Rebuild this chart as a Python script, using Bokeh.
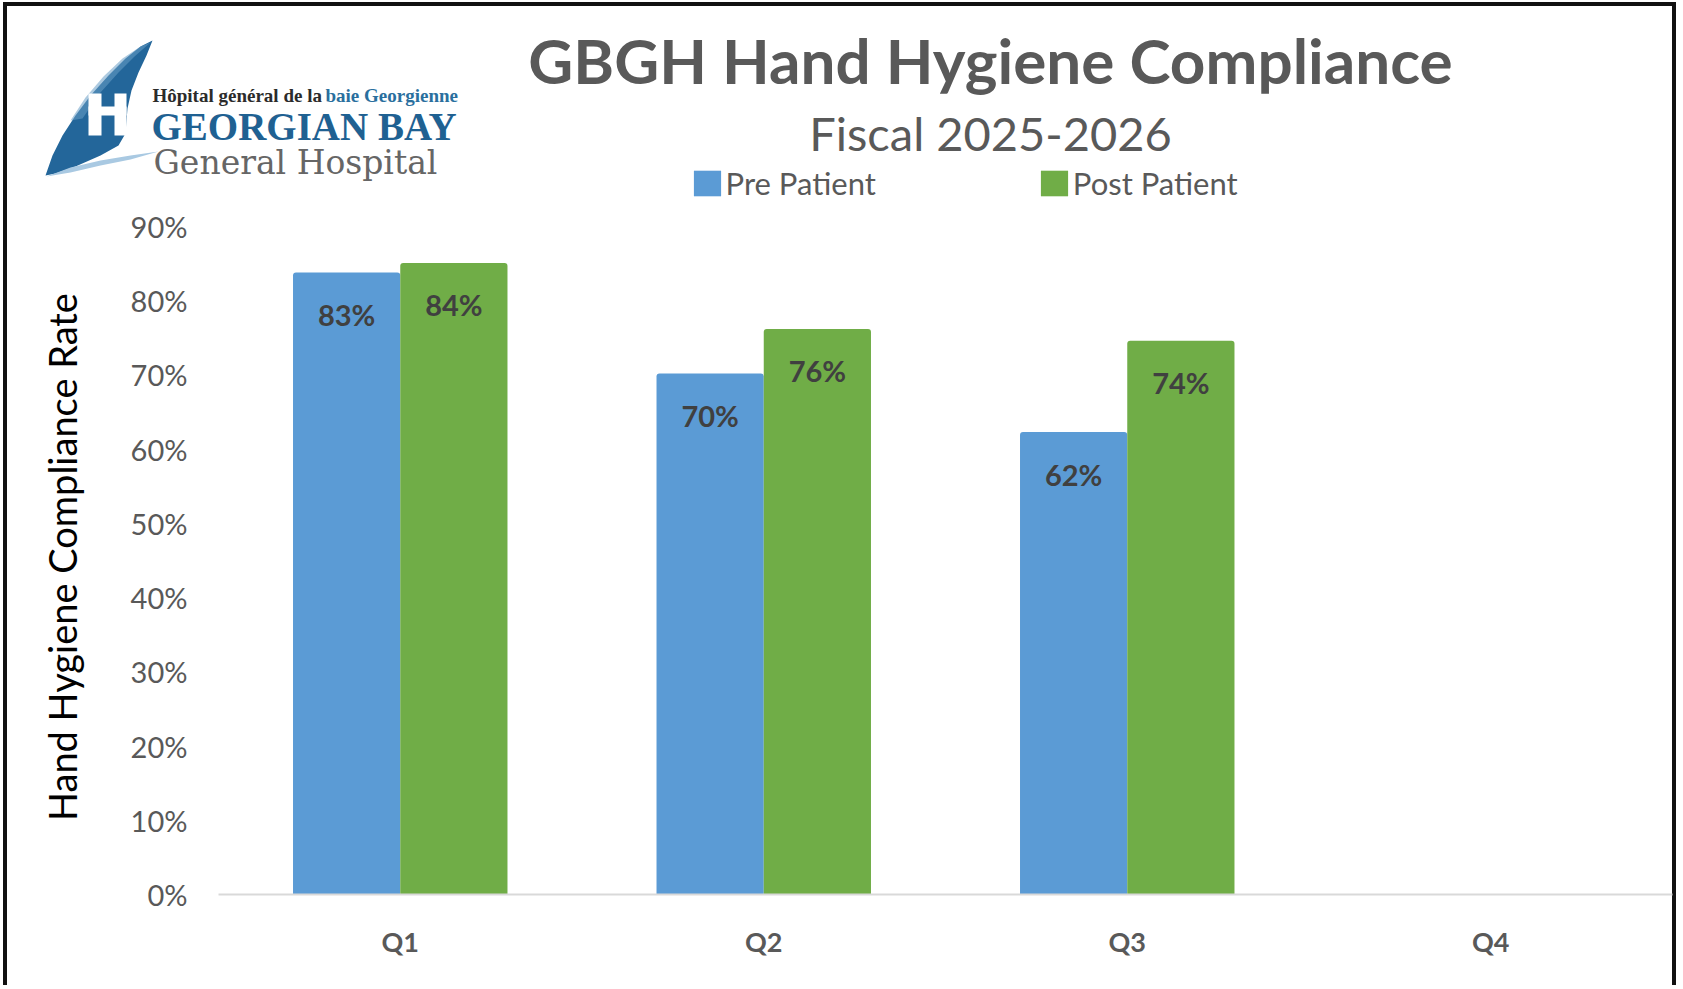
from bokeh.plotting import figure
from bokeh.models import (ColumnDataSource, FactorRange, Range1d, FixedTicker,
                          NumeralTickFormatter, Legend, LegendItem, VBar)
from bokeh.layouts import column
from bokeh.transform import dodge
from bokeh.core.properties import value
from bokeh.embed import file_html
from bokeh.resources import INLINE

# ---------------- data ----------------
quarters = ["Q1", "Q2", "Q3", "Q4"]
measured_quarters = ["Q1", "Q2", "Q3"]
pre_patient = [0.838, 0.702, 0.623]
post_patient = [0.851, 0.762, 0.746]
pre_labels = ["83%", "70%", "62%"]
post_labels = ["84%", "76%", "74%"]
series_names = ["Pre Patient", "Post Patient"]
y_ticks = [0.0, 0.1, 0.2, 0.3, 0.4, 0.5, 0.6, 0.7, 0.8, 0.9]
title_text = "GBGH Hand Hygiene Compliance"
subtitle_text = "Fiscal 2025-2026"
y_title = "Hand Hygiene Compliance Rate"

BLUE = "#5B9BD5"
GREEN = "#70AD47"
GREY = "#595959"

# ---------------- geometry (page pixels, page origin at 0,0) ----------------
W = 1680
HH = 205                     # header height
CH = 780                     # chart height
FRAME_L, FRAME_R, FRAME_T, FRAME_B = 218, 1672, 219, 894
PX_PER_UNIT = 742.2

SIDE_SHADOW = "inset 3px 0 0 0 #fff, inset 7px 0 0 0 #111, inset -4px 0 0 0 #fff, inset -8px 0 0 0 #111"
HAS_RADIUS = "border_radius" in VBar.properties()


def no_align(fig):
    try:
        fig.frame_align = False
    except Exception:
        pass


def rounded():
    return {"border_radius": (3, 3, 0, 0)} if HAS_RADIUS else {}


# ---------------- header: logo, titles, legend ----------------
header = figure(width=W, height=HH, x_range=Range1d(0, W), y_range=Range1d(HH, 0),
                output_backend="svg", toolbar_location=None, min_border=0,
                x_axis_location=None, y_axis_location=None, outline_line_color=None,
                border_fill_alpha=0, background_fill_alpha=0,
                styles={"box-shadow": "inset 0 2px 0 0 #fff, " + SIDE_SHADOW + ", inset 0 6px 0 0 #111"})
header.grid.visible = False
no_align(header)

# logo: sail
header.patch([45, 52, 62, 75, 90, 108, 125, 140, 152, 146, 138, 131, 127, 125, 118, 100, 75, 55],
             [175, 155, 135, 115, 95, 75, 58, 46, 40, 55, 72, 90, 108, 133, 145, 155, 166, 173],
             fill_color="#23669A", line_color=None)
header.patch([70, 85, 103, 122, 140, 150, 134, 118, 100, 82],
             [120, 97, 76, 58, 46, 42, 56, 72, 92, 118],
             fill_color="#6A9FC6", fill_alpha=0.55, line_color=None)
# H
header.quad(left=[88, 114, 88], right=[101, 126, 126], top=[93, 93, 106], bottom=[135, 135, 115],
            fill_color="white", line_color=None)
header.quad(left=[103], right=[112], top=[118], bottom=[127], fill_color="#23669A", line_color=None)
# swoosh
header.patch([46, 70, 100, 130, 158, 130, 100, 70], [176, 167, 160, 155, 151, 159, 165, 172],
             fill_color="#A9C9E2", line_color=None)

header.text(x=[152], y=[95], text=["Hôpital général de la"], text_font=value("Liberation Serif"),
            text_font_style="bold", text_font_size="19px", text_color="#2B2B2B",
            text_align="left", text_baseline="middle")
header.text(x=[325], y=[95], text=["baie Georgienne"], text_font=value("Liberation Serif"),
            text_font_style="bold", text_font_size="19px", text_color="#2A6F9E",
            text_align="left", text_baseline="middle")
header.text(x=[151], y=[126], text=["GEORGIAN BAY"], text_font=value("Liberation Serif"),
            text_font_style="bold", text_font_size="39px", text_color="#1F6192",
            text_align="left", text_baseline="middle")
header.text(x=[153], y=[162], text=["General Hospital"], text_font=value("DejaVu Serif"),
            text_font_size="33px", text_color="#666666",
            text_align="left", text_baseline="middle")

# titles
header.text(x=[990], y=[59], text=[title_text], text_font=value("Lato"), text_font_style="bold",
            text_font_size="62px", text_color=GREY, text_align="center", text_baseline="middle")
header.text(x=[990], y=[132], text=[subtitle_text], text_font=value("Lato"),
            text_font_size="47px", text_color=GREY, text_align="center", text_baseline="middle")

# legend (series swatches); renderers hold one empty (NaN) row so the swatch colour resolves
nan = float("nan")
leg_pre = header.vbar(x=[nan], top=[nan], width=1, fill_color=BLUE, line_color=None)
leg_post = header.vbar(x=[nan], top=[nan], width=1, fill_color=GREEN, line_color=None)
legend = Legend(items=[LegendItem(label=series_names[0], renderers=[leg_pre]),
                       LegendItem(label=series_names[1], renderers=[leg_post])],
                orientation="horizontal", location=(689.6, HH - 201.5),
                padding=0, margin=0, spacing=161, glyph_width=34, glyph_height=32,
                label_standoff=2, label_text_font="Lato", label_text_font_size="31px",
                label_text_color=GREY, background_fill_alpha=0, border_line_color=None)
header.add_layout(legend)

# ---------------- chart ----------------
chart = figure(width=W, height=CH, x_range=FactorRange(*quarters),
               y_range=Range1d(0, (FRAME_B - FRAME_T) / PX_PER_UNIT),
               output_backend="svg", toolbar_location=None,
               min_border_left=FRAME_L, min_border_right=W - FRAME_R,
               min_border_top=FRAME_T - HH, min_border_bottom=HH + CH - FRAME_B,
               outline_line_color=None, border_fill_alpha=0, background_fill_alpha=0,
               styles={"box-shadow": SIDE_SHADOW})
chart.grid.visible = False
no_align(chart)

src = ColumnDataSource(dict(q=measured_quarters, pre=pre_patient, post=post_patient,
                            pre_lab=pre_labels, post_lab=post_labels))
OFF = 0.1475
BW = 0.295
chart.vbar(x=dodge("q", -OFF, range=chart.x_range), top="pre", width=BW, source=src,
           fill_color=BLUE, line_color=None, **rounded())
chart.vbar(x=dodge("q", OFF, range=chart.x_range), top="post", width=BW, source=src,
           fill_color=GREEN, line_color=None, **rounded())

for col_y, col_t, off in (("pre", "pre_lab", -OFF), ("post", "post_lab", OFF)):
    chart.text(x=dodge("q", off, range=chart.x_range), y=col_y, text=col_t, source=src,
               y_offset=42, text_align="center", text_baseline="middle",
               text_font=value("Lato"), text_font_style="bold", text_font_size="29px",
               text_color="#404040")

yax = chart.yaxis[0]
yax.ticker = FixedTicker(ticks=y_ticks)
yax.formatter = NumeralTickFormatter(format="0%")
yax.major_label_text_font = "Lato"
yax.major_label_text_font_size = "29px"
yax.major_label_text_color = GREY
yax.axis_line_color = None
yax.major_tick_line_color = None
yax.minor_tick_line_color = None
yax.major_tick_out = 0
yax.major_tick_in = 0
yax.major_label_standoff = 31
yax.axis_label = y_title
yax.axis_label_text_font = "Lato"
yax.axis_label_text_font_size = "38px"
yax.axis_label_text_font_style = "normal"
yax.axis_label_text_color = "black"
yax.axis_label_standoff = 43

xax = chart.xaxis[0]
xax.axis_line_color = "#D9D9D9"
xax.axis_line_width = 2
xax.major_tick_line_color = None
xax.minor_tick_line_color = None
xax.major_tick_out = 0
xax.major_tick_in = 0
xax.major_label_text_font = "Lato"
xax.major_label_text_font_style = "bold"
xax.major_label_text_font_size = "27px"
xax.major_label_text_color = GREY
xax.major_label_standoff = 30

layout = column(header, chart, spacing=0)

open("out.html", "w").write(file_html(layout, INLINE))
